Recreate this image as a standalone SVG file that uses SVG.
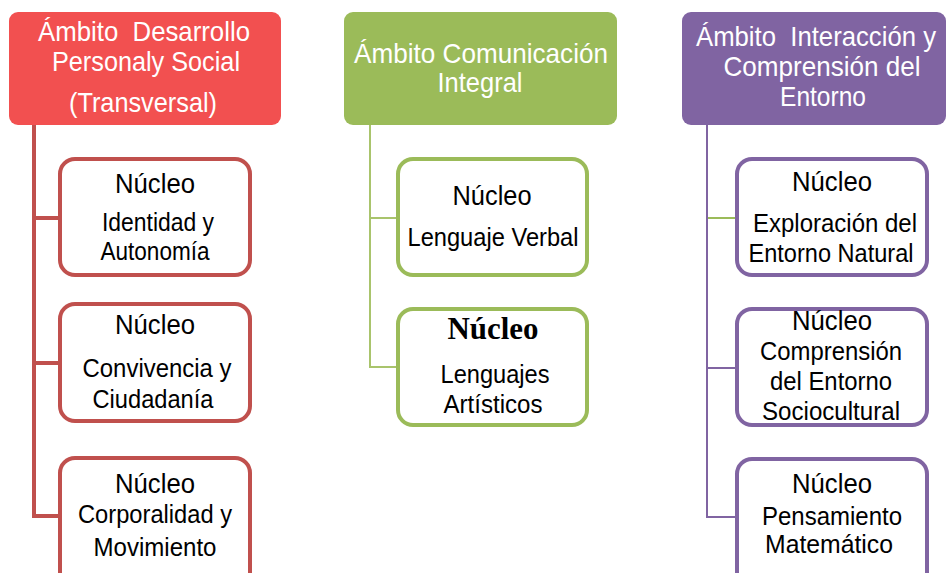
<svg xmlns="http://www.w3.org/2000/svg" width="946" height="573" viewBox="0 0 946 573">
<style>
.hd{font-family:"Liberation Sans",Arial,sans-serif;font-size:28px;fill:#ffffff;text-anchor:middle}
.tx{font-family:"Liberation Sans",Arial,sans-serif;font-size:26.5px;fill:#000000;text-anchor:middle}
.nu{font-size:27px}
.bs{font-family:"Liberation Serif","Times New Roman",serif;font-size:31px;font-weight:bold;fill:#000;text-anchor:middle}
.rb{fill:#ffffff;stroke:#C0504D;stroke-width:4}
.gb{fill:#ffffff;stroke:#9BBB59;stroke-width:4}
.pb{fill:#ffffff;stroke:#8064A2;stroke-width:4}
</style>
<rect width="946" height="573" fill="#ffffff"/>
<g id="connectors" fill="none">
  <path d="M34 125 V516 M32 218 H60 M32 363 H60 M32 516 H60" stroke="#C0504D" stroke-width="4"/>
  <path d="M370 125 V367 M369 218 H396 M369 367 H396" stroke="#A9C46C" stroke-width="2"/>
  <path d="M707 125 V517 M706 368 H735 M706 517 H735" stroke="#8064A2" stroke-width="2"/>
  <path d="M708 218 H735" stroke="#9BBB59" stroke-width="2"/>
</g>
<g id="ambito-personal">
  <rect x="9" y="12" width="272" height="113" rx="9" fill="#F25050"/>
  <text class="hd" x="144" y="41" xml:space="preserve" textLength="212" lengthAdjust="spacingAndGlyphs">Ámbito  Desarrollo</text>
  <text class="hd" x="146" y="71" textLength="188" lengthAdjust="spacingAndGlyphs">Personaly Social</text>
  <text class="hd" x="143" y="112" textLength="148" lengthAdjust="spacingAndGlyphs">(Transversal)</text>
</g>
<g id="nucleo-identidad">
  <rect class="rb" x="60" y="159" width="190" height="116" rx="15"/>
  <text class="tx nu" x="155" y="193" textLength="80" lengthAdjust="spacingAndGlyphs">Núcleo</text>
  <text class="tx" x="158" y="231" textLength="112" lengthAdjust="spacingAndGlyphs">Identidad y</text>
  <text class="tx" x="155" y="260" textLength="109" lengthAdjust="spacingAndGlyphs">Autonomía</text>
</g>
<g id="nucleo-convivencia">
  <rect class="rb" x="60" y="304" width="190" height="117" rx="15"/>
  <text class="tx nu" x="155" y="334" textLength="80" lengthAdjust="spacingAndGlyphs">Núcleo</text>
  <text class="tx" x="157" y="377" textLength="149" lengthAdjust="spacingAndGlyphs">Convivencia y</text>
  <text class="tx" x="153" y="408" textLength="121" lengthAdjust="spacingAndGlyphs">Ciudadanía</text>
</g>
<g id="nucleo-corporalidad">
  <rect class="rb" x="60" y="458" width="190" height="130" rx="15"/>
  <text class="tx nu" x="155" y="493" textLength="80" lengthAdjust="spacingAndGlyphs">Núcleo</text>
  <text class="tx" x="155" y="523" textLength="154" lengthAdjust="spacingAndGlyphs">Corporalidad y</text>
  <text class="tx" x="155" y="556" textLength="123" lengthAdjust="spacingAndGlyphs">Movimiento</text>
</g>
<g id="ambito-comunicacion">
  <rect x="344" y="12" width="273" height="113" rx="9" fill="#9BBB59"/>
  <text class="hd" x="481" y="63" textLength="254" lengthAdjust="spacingAndGlyphs">Ámbito Comunicación</text>
  <text class="hd" x="480" y="92" textLength="85" lengthAdjust="spacingAndGlyphs">Integral</text>
</g>
<g id="nucleo-lenguaje-verbal">
  <rect class="gb" x="398" y="159" width="189" height="116" rx="15"/>
  <text class="tx nu" x="492" y="205" textLength="79" lengthAdjust="spacingAndGlyphs">Núcleo</text>
  <text class="tx" x="493" y="246" textLength="171" lengthAdjust="spacingAndGlyphs">Lenguaje Verbal</text>
</g>
<g id="nucleo-lenguajes-artisticos">
  <rect class="gb" x="398" y="309" width="189" height="116" rx="15"/>
  <text class="bs" x="493" y="339" textLength="91" lengthAdjust="spacingAndGlyphs">Núcleo</text>
  <text class="tx" x="495" y="383" textLength="109" lengthAdjust="spacingAndGlyphs">Lenguajes</text>
  <text class="tx" x="493" y="413" textLength="99" lengthAdjust="spacingAndGlyphs">Artísticos</text>
</g>
<g id="ambito-interaccion">
  <rect x="682" y="12" width="264" height="113" rx="9" fill="#8064A2"/>
  <text class="hd" x="816" y="46" xml:space="preserve" font-size="26.5" textLength="240" lengthAdjust="spacingAndGlyphs">Ámbito  Interacción y</text>
  <text class="hd" x="822" y="76" textLength="197" lengthAdjust="spacingAndGlyphs">Comprensión del</text>
  <text class="hd" x="823" y="106" textLength="86" lengthAdjust="spacingAndGlyphs">Entorno</text>
</g>
<g id="nucleo-exploracion">
  <rect class="pb" x="737" y="159" width="190" height="116" rx="15"/>
  <text class="tx nu" x="832" y="191" textLength="80" lengthAdjust="spacingAndGlyphs">Núcleo</text>
  <text class="tx" x="835" y="232" textLength="164" lengthAdjust="spacingAndGlyphs">Exploración del</text>
  <text class="tx" x="831" y="262" textLength="165" lengthAdjust="spacingAndGlyphs">Entorno Natural</text>
</g>
<g id="nucleo-comprension">
  <rect class="pb" x="737" y="309" width="190" height="116" rx="15"/>
  <text class="tx nu" x="832" y="330" textLength="80" lengthAdjust="spacingAndGlyphs">Núcleo</text>
  <text class="tx" x="831" y="360" textLength="142" lengthAdjust="spacingAndGlyphs">Comprensión</text>
  <text class="tx" x="831" y="390" textLength="122" lengthAdjust="spacingAndGlyphs">del Entorno</text>
  <text class="tx" x="831" y="420" textLength="138" lengthAdjust="spacingAndGlyphs">Sociocultural</text>
</g>
<g id="nucleo-pensamiento">
  <rect class="pb" x="737" y="459" width="190" height="130" rx="15"/>
  <text class="tx nu" x="832" y="493" textLength="80" lengthAdjust="spacingAndGlyphs">Núcleo</text>
  <text class="tx" x="832" y="525" textLength="140" lengthAdjust="spacingAndGlyphs">Pensamiento</text>
  <text class="tx" x="829" y="553" textLength="128" lengthAdjust="spacingAndGlyphs">Matemático</text>
</g>
</svg>
